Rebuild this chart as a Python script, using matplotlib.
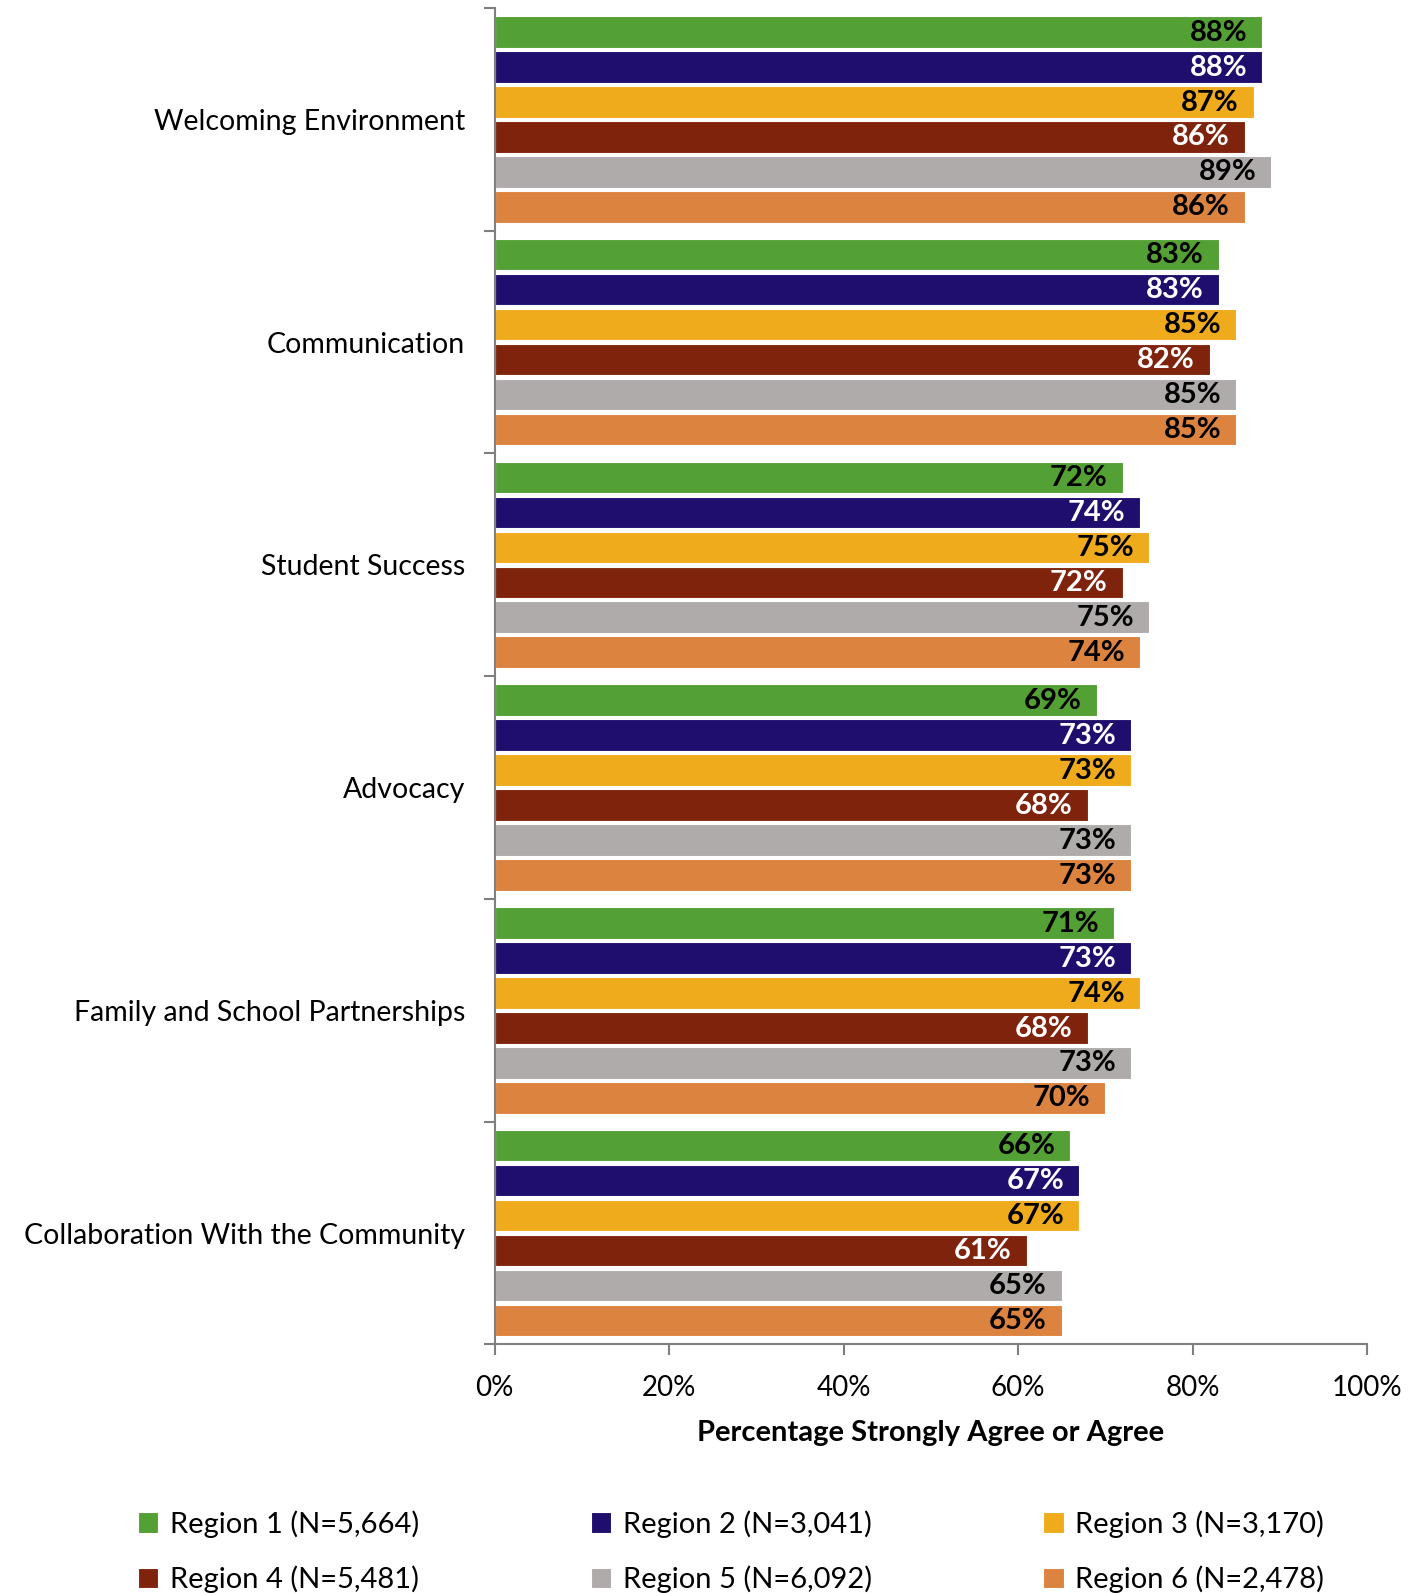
import matplotlib
matplotlib.use("Agg")
import matplotlib.pyplot as plt
import numpy as np

plt.rcParams["font.family"] = ["Lato", "DejaVu Sans"]

categories = ["Welcoming Environment", "Communication", "Student Success",
              "Advocacy", "Family and School Partnerships",
              "Collaboration With the Community"]
regions = ["Region 1 (N=5,664)", "Region 2 (N=3,041)", "Region 3 (N=3,170)",
           "Region 4 (N=5,481)", "Region 5 (N=6,092)", "Region 6 (N=2,478)"]
colors = ["#53a035", "#200e6e", "#f0ab1d", "#80230c", "#afabaa", "#dd8340"]
label_colors = ["black", "white", "black", "white", "black", "black"]

region1 = [88, 83, 72, 69, 71, 66]
region2 = [88, 83, 74, 73, 73, 67]
region3 = [87, 85, 75, 73, 74, 67]
region4 = [86, 82, 72, 68, 68, 61]
region5 = [89, 85, 75, 73, 73, 65]
region6 = [86, 85, 74, 73, 70, 65]
values = [region1, region2, region3, region4, region5, region6]

fig = plt.figure(figsize=(14.21, 15.93), dpi=100)
ax = fig.add_axes([0.348, 0.156, 0.614, 0.839])

slot = 0.157
height = 0.142
y = np.arange(len(categories))
handles = []
for i, (vals, c) in enumerate(zip(values, colors)):
    pos = y - 0.5 + 0.029 + slot * (i + 0.5)
    bars = ax.barh(pos, vals, height=height, color=c, edgecolor="white",
                   linewidth=0.8, label=regions[i])
    handles.append(bars)
    for p, v in zip(pos, vals):
        ax.text(v - 1.7, p + 0.003, f"{v}%", ha="right", va="center",
                fontsize=21, fontweight="bold", color=label_colors[i])

ax.set_ylim(len(categories) - 0.5, -0.5)
ax.set_xlim(0, 100)
ax.set_yticks(y)
ax.set_yticklabels(categories, fontsize=20.5)
ax.set_yticks(np.arange(len(categories) + 1) - 0.5, minor=True)
ax.tick_params(axis="y", which="major", length=0, pad=21)
ax.tick_params(axis="y", which="minor", length=8, color="#7f7f7f", width=1.5)
ax.set_xticks(np.arange(0, 101, 20))
ax.set_xticklabels([f"{t}%" for t in range(0, 101, 20)], fontsize=20)
ax.tick_params(axis="x", length=8, color="#7f7f7f", width=1.5, pad=14)
ax.set_xlabel("Percentage Strongly Agree or Agree", fontsize=21,
              fontweight="bold", labelpad=14)

for s in ["top", "right"]:
    ax.spines[s].set_visible(False)
for s in ["left", "bottom"]:
    ax.spines[s].set_color("#7f7f7f")
    ax.spines[s].set_linewidth(1.5)

order = [0, 3, 1, 4, 2, 5]
fig.legend([handles[k] for k in order], [regions[k] for k in order],
           ncol=3, loc="upper left", bbox_to_anchor=(0.097, 0.0, 0.835, 0.052),
           mode="expand", frameon=False, fontsize=21, handlelength=0.7,
           handleheight=0.7, handletextpad=0.4, labelspacing=0.95,
           borderpad=0, borderaxespad=0)

fig.savefig("out.png", dpi=100)
